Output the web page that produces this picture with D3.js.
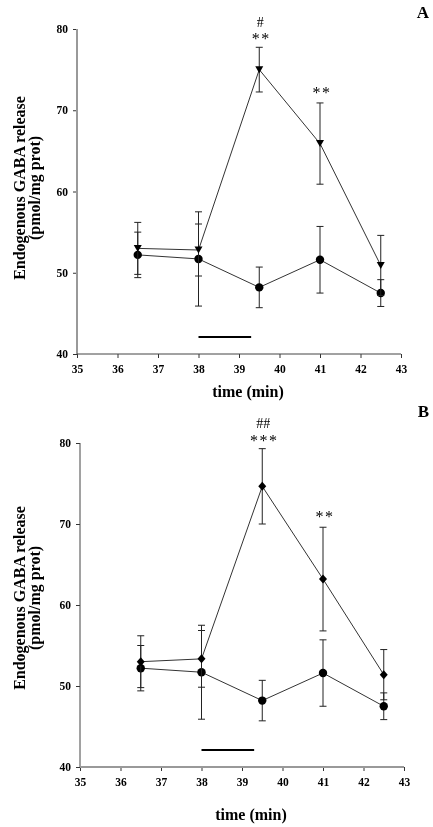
<!DOCTYPE html>
<html><head><meta charset="utf-8">
<script src="https://cdn.jsdelivr.net/npm/d3@7"></script>
<style>
html,body{margin:0;padding:0;background:#fff;}
svg{display:block;will-change:transform;-webkit-font-smoothing:antialiased;}
svg text{font-family:"Liberation Serif","DejaVu Serif",serif;}
</style></head>
<body>
<svg id="c" width="433" height="827"></svg>
<script>
// ---- data ----
const times = [36.5, 38, 39.5, 41, 42.5];
const xTicks = [35, 36, 37, 38, 39, 40, 41, 42, 43];
const yTicks = [40, 50, 60, 70, 80];
const controlMean = [52.2, 51.7, 48.2, 51.6, 47.5];
const controlErr  = [2.8, 5.8, 2.5, 4.1, 1.65];
const aMean = [53.0, 52.8, 75.0, 65.9, 50.9];
const aErr  = [3.2, 3.2, 2.75, 5.0, 3.7];
const bMean = [53.0, 53.35, 74.65, 63.2, 51.4];
const bErr  = [3.2, 3.5, 4.65, 6.4, 3.1];
const barSpan = [38, 39.3];
const barLevel = 42.1;
const aMarks = [{t: 39.5, hash: "#", stars: "**"}, {t: 41, hash: "", stars: "**"}];
const bMarks = [{t: 39.5, hash: "##", stars: "***"}, {t: 41, hash: "", stars: "**"}];
const xTitle = "time (min)";
const yTitle = ["Endogenous GABA release", "(pmol/mg prot)"];

const FONT = "'Liberation Serif', 'DejaVu Serif', serif";
const svg = d3.select("#c");

function panel(o) {
  const x = d3.scaleLinear().domain([35, 43]).range([o.x0, o.x1]);
  const y = d3.scaleLinear().domain([40, 80]).range([o.y0, o.y1]);
  const g = svg.append("g").attr("font-family", FONT);

  const ya = g.append("g").attr("transform", `translate(${o.x0},0)`)
    .call(d3.axisLeft(y).tickValues(yTicks).tickSize(4).tickPadding(5).tickFormat(d3.format("d")));
  const xa = g.append("g").attr("transform", `translate(0,${o.y0})`)
    .call(d3.axisBottom(x).tickValues(xTicks).tickSize(4).tickPadding(7).tickFormat(d3.format("d")));
  [ya, xa].forEach(a => {
    a.attr("font-family", FONT);
    a.selectAll("text").attr("font-size", 11.5).attr("font-weight", "bold").attr("fill", "#000");
    a.select(".domain").remove();
    a.selectAll(".tick line").attr("stroke", "#333");
  });
  g.append("line").attr("x1", o.x0).attr("x2", o.x0).attr("y1", y(80)).attr("y2", o.y0)
    .attr("stroke", o.yAxisColor).attr("stroke-width", o.yAxisW);
  g.append("line").attr("x1", o.x0).attr("x2", x(43)).attr("y1", o.y0).attr("y2", o.y0)
    .attr("stroke", o.xAxisColor).attr("stroke-width", o.xAxisW);

  g.append("text").attr("x", (o.x0 + o.x1) / 2 + 9).attr("y", o.y0 + o.xTitleOff)
    .attr("text-anchor", "middle").attr("font-size", 16).attr("font-weight", "bold").text(xTitle);
  const yc = o.yLabelC;
  g.append("text").attr("transform", `translate(25,${yc}) rotate(-90)`)
    .attr("text-anchor", "middle").attr("font-size", 16).attr("font-weight", "bold").text(yTitle[0]);
  g.append("text").attr("transform", `translate(40,${yc}) rotate(-90)`)
    .attr("text-anchor", "middle").attr("font-size", 16).attr("font-weight", "bold").text(yTitle[1]);
  g.append("text").attr("x", 429).attr("y", o.letterY).attr("text-anchor", "end")
    .attr("font-size", 17).attr("font-weight", "bold").text(o.letter);

  g.append("line").attr("x1", x(barSpan[0])).attr("x2", x(barSpan[1]))
    .attr("y1", y(barLevel)).attr("y2", y(barLevel)).attr("stroke", "#000").attr("stroke-width", 2);

  const line = d3.line().x((d, i) => x(times[i])).y(d => y(d));
  function series(mean, err, shape) {
    g.append("path").attr("d", line(mean)).attr("fill", "none").attr("stroke", "#333").attr("stroke-width", 1);
    mean.forEach((m, i) => {
      const cx = x(times[i]);
      const hi = y(m + err[i]), lo = y(m - err[i]);
      g.append("line").attr("x1", cx).attr("x2", cx).attr("y1", hi).attr("y2", lo).attr("stroke", "#222").attr("stroke-width", 1);
      [hi, lo].forEach(yy => g.append("line").attr("x1", cx - 3.5).attr("x2", cx + 3.5)
        .attr("y1", yy).attr("y2", yy).attr("stroke", "#222").attr("stroke-width", 1));
    });
    mean.forEach((m, i) => {
      const cx = x(times[i]), cy = y(m);
      if (shape === "circle") {
        g.append("circle").attr("cx", cx).attr("cy", cy).attr("r", 4.2).attr("fill", "#000");
      } else if (shape === "tri") {
        g.append("path").attr("d", `M${cx - 4},${cy - 3.5}L${cx + 4},${cy - 3.5}L${cx},${cy + 3.5}Z`).attr("fill", "#000");
      } else {
        g.append("path").attr("d", `M${cx},${cy - 4.5}L${cx + 4},${cy}L${cx},${cy + 4.5}L${cx - 4},${cy}Z`).attr("fill", "#000");
      }
    });
  }
  series(controlMean, controlErr, "circle");
  series(o.mean, o.err, o.shape);

  o.marks.forEach(mk => {
    const i = times.indexOf(mk.t);
    const top = y(o.mean[i] + o.err[i]);
    const cx = x(mk.t) + 1;
    g.append("text").attr("x", cx + 1).attr("y", top - (mk.hash ? 3 : 5))
      .attr("text-anchor", "middle").attr("font-size", 16).attr("letter-spacing", 1.5)
      .attr("fill", "#000").text(mk.stars);
    if (mk.hash) {
      g.append("text").attr("x", cx).attr("y", top - 20.5)
        .attr("text-anchor", "middle").attr("font-size", 14)
        .attr("fill", "#000").text(mk.hash);
    }
  });
}

panel({x0: 77, x1: 401, y0: 354, y1: 29, mean: aMean, err: aErr, shape: "tri", marks: aMarks,
  letter: "A", letterY: 18, yLabelC: 188, xTitleOff: 43, yAxisColor: "#999", yAxisW: 2, xAxisColor: "#444", xAxisW: 1});
panel({x0: 80, x1: 404, y0: 767, y1: 443, mean: bMean, err: bErr, shape: "diamond", marks: bMarks,
  letter: "B", letterY: 417, yLabelC: 598, xTitleOff: 53, yAxisColor: "#444", yAxisW: 1, xAxisColor: "#999", xAxisW: 2});
</script>
</body></html>
